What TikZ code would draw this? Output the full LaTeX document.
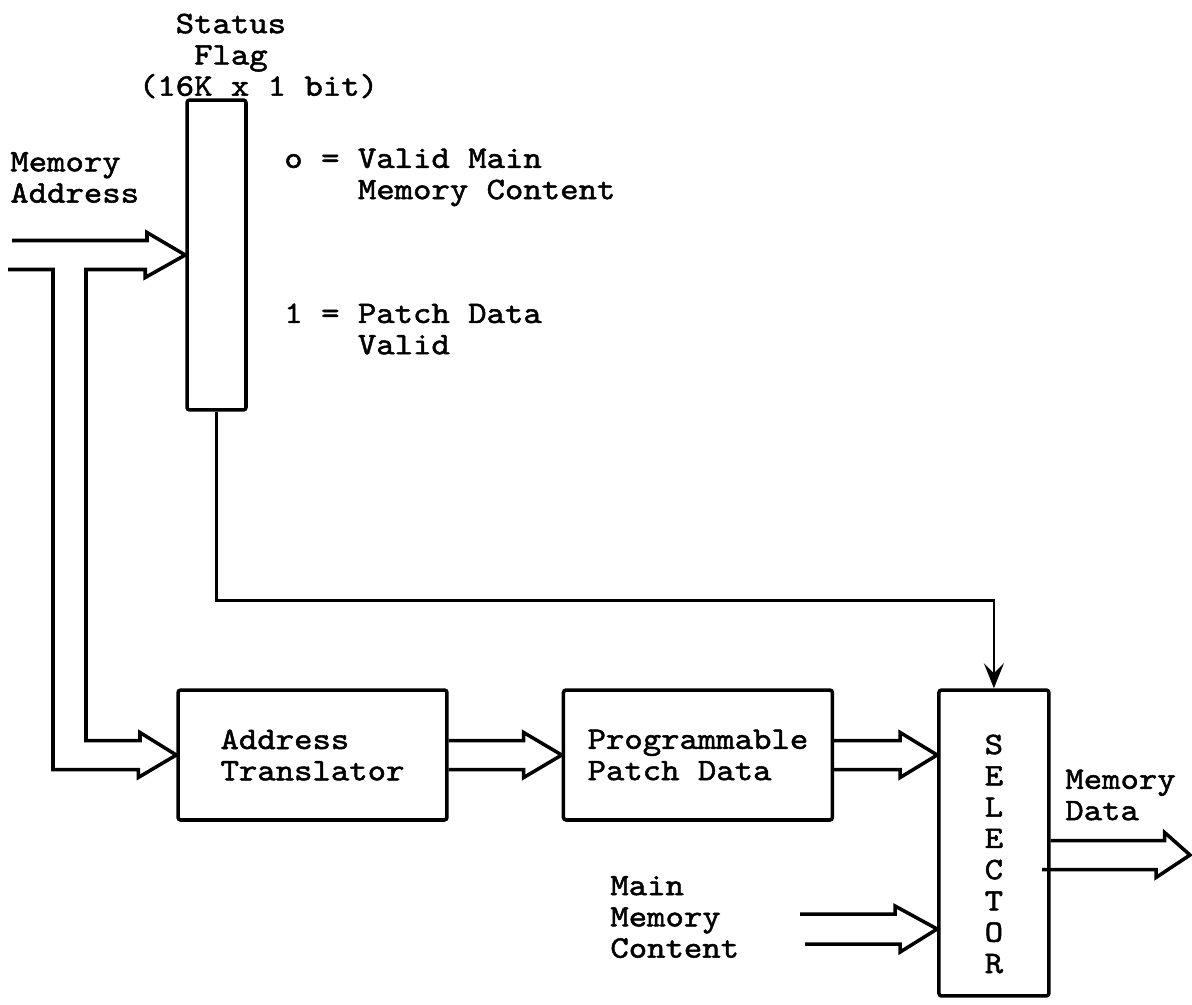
\documentclass[tikz,border=0pt]{standalone}
\usepackage{fontspec}
\newfontfamily\typewr{lmmono10-regular.otf}[FakeBold=1.6,FakeStretch=1.12]
\usetikzlibrary{arrows.meta,positioning,calc}

\begin{document}
\begin{tikzpicture}[
    x=0.02cm, y=-0.02cm,
    font=\typewr\fontsize{17.8}{17.8}\selectfont,
    box/.style={rectangle,draw,line width=2pt,rounded corners=1.5pt,inner sep=0pt,align=left,minimum width=5.38cm,minimum height=2.6cm},
    bus/.style={line width=2pt,line join=miter},
    ctl/.style={-{Stealth[length=5mm,width=4mm,inset=2mm]},line width=1.6pt},
    lbl/.style={align=left,inner sep=0pt,anchor=west}
]
\useasboundingbox (0,0) rectangle (1192,1004);
\node[box,minimum width=1.18cm,minimum height=6.2cm] (flag) at (216.5,255) {};
\node[box] (trans) at (312.5,755) {Address\\Translator};
\node[box,right=2.26cm of trans] (patch) {Programmable\\Patch Data};
\node[box,minimum width=2.2cm,minimum height=6.12cm,right=2.06cm of patch.north east,anchor=north west] (sel) {};
\node[align=center,inner sep=0pt,yshift=-0.22cm] (seltxt) at (sel.center) {S\\E\\L\\E\\C\\T\\O\\R};
\node[lbl,anchor=center] (flaglbl) at (258.5,56) {\phantom{xx}Status\\\phantom{xxx}Flag\\(16K x 1 bit)};
\node[lbl] (addrlbl) at (10,177.5) {Memory\\Address};
\node[lbl] (legend0) at (284,177.5) {o = Valid Main\\\phantom{xxxx}Memory Content};
\node[lbl] (legend1) at (284,329) {1 = Patch Data\\\phantom{xxxx}Valid};
\node[lbl] (datalbl) at (1065,795) {Memory\\Data};
\node[lbl] (mainlbl) at (610,917) {Main\\Memory\\Content};
\coordinate (out) at (1190,855);
\coordinate (mmin) at (800,929);
\draw[bus] (12,240.5) -- (147,240.5) -- ++(0,-8) -- (flag.west) -- ++(-40,22.5) -- ++(0,-8) -| (86,740.5) -- (140,740.5) -- ++(0,-8) -- (trans.west) -- ++(-38,22.5) -- ++(0,-8) -| (53,269.5) -- (8,269.5);
\draw[bus] (trans.east) ++(0,-14.5) -- ++(75,0) -- ++(0,-8) -- (patch.west) -- ++(-38,22.5) -- ++(0,-8) -- ++(-75,0);
\draw[bus] (patch.east) ++(0,-14.5) -- ++(66,0) -- ++(0,-8) -- (sel.west |- patch.east) -- ++(-37,22.5) -- ++(0,-8) -- ++(-66,0);
\draw[bus] (sel.east |- out) ++(0,-14.5) -- ++(114,0) -- ++(0,-8) -- (out) -- ++(-34,22.5) -- ++(0,-8) -- ++(-114,0);
\draw[bus] (mmin) ++(0,-15) -- ++(95,0) -- ++(0,-8) -- (sel.west |- mmin) -- ++(-37,23) -- ++(0,-8) -- ++(-95,0);
\draw[ctl] (flag.south) -- ++(0,189) -| (sel.north);
\end{tikzpicture}
\end{document}
